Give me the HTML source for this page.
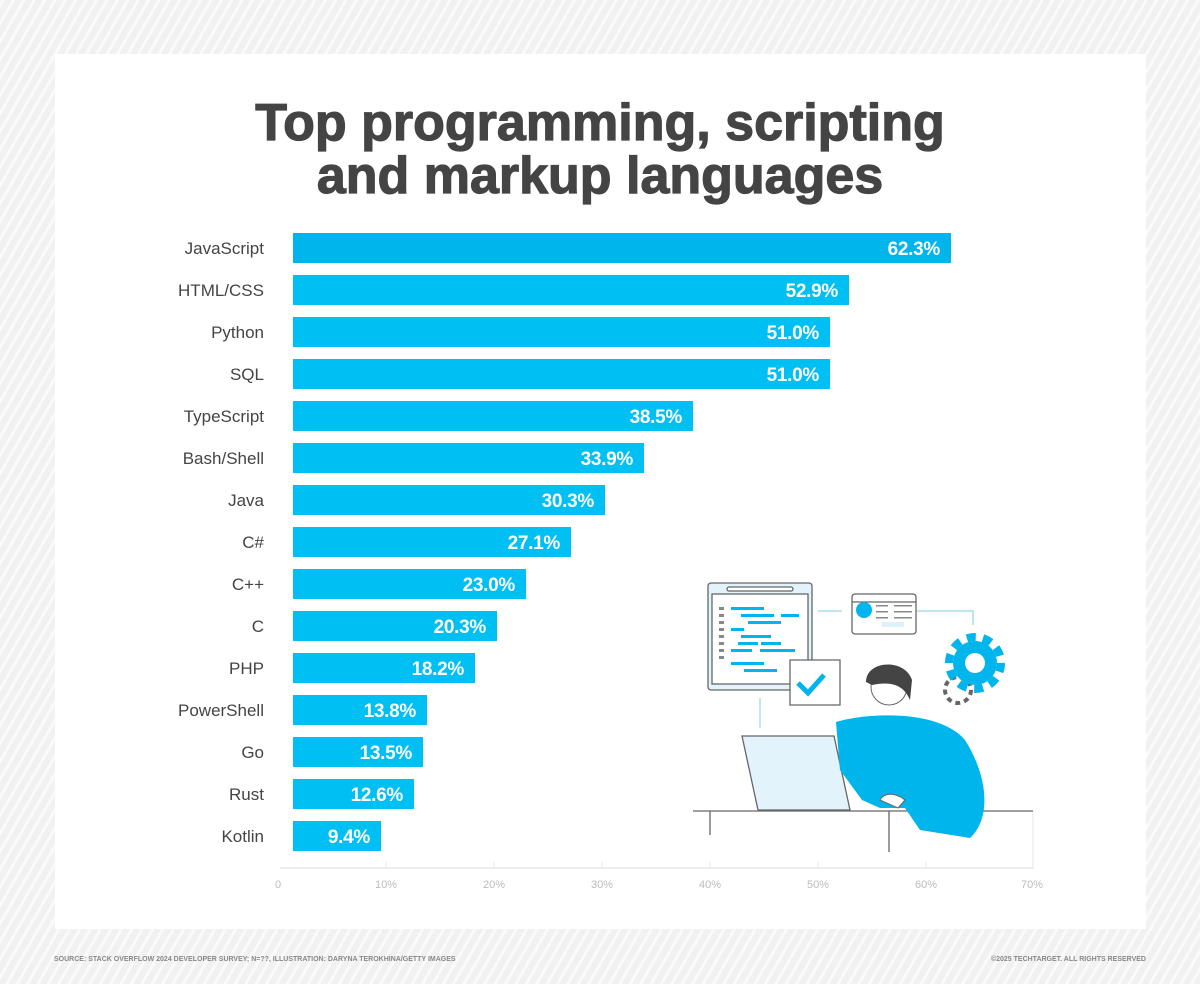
<!DOCTYPE html>
<html><head><style>
body{margin:0;width:1200px;height:984px;overflow:hidden;font-family:"Liberation Sans",sans-serif;
background:repeating-linear-gradient(-60deg,#f1f1f1 0 6px,#fafafa 6px 9px);}
</style></head><body>
<svg width="1200" height="984" style="position:absolute;left:0;top:0" font-family="Liberation Sans, sans-serif">
<rect x="55" y="54" width="1091" height="875" fill="#fff"/>
<g font-size="52" font-weight="bold" fill="#444" stroke="#444" stroke-width="1.2" text-anchor="middle">
<text x="600" y="140">Top programming, scripting</text>
<text x="600" y="193">and markup languages</text>
</g>
<g font-size="17" fill="#444" text-anchor="end">
<text x="264" y="254">JavaScript</text><text x="264" y="296">HTML/CSS</text><text x="264" y="338">Python</text>
<text x="264" y="380">SQL</text><text x="264" y="422">TypeScript</text><text x="264" y="464">Bash/Shell</text>
<text x="264" y="506">Java</text><text x="264" y="548">C#</text><text x="264" y="590">C++</text>
<text x="264" y="632">C</text><text x="264" y="674">PHP</text><text x="264" y="716">PowerShell</text>
<text x="264" y="758">Go</text><text x="264" y="800">Rust</text><text x="264" y="842">Kotlin</text>
</g>
<g fill="#00bff2">
<rect x="293" y="233" width="658" height="30" fill="#00b4ec"/><rect x="293" y="275" width="556" height="30"/>
<rect x="293" y="317" width="537" height="30"/><rect x="293" y="359" width="537" height="30"/>
<rect x="293" y="401" width="400" height="30"/><rect x="293" y="443" width="351" height="30"/>
<rect x="293" y="485" width="312" height="30"/><rect x="293" y="527" width="278" height="30"/>
<rect x="293" y="569" width="233" height="30"/><rect x="293" y="611" width="204" height="30"/>
<rect x="293" y="653" width="182" height="30"/><rect x="293" y="695" width="134" height="30"/>
<rect x="293" y="737" width="130" height="30"/><rect x="293" y="779" width="121" height="30"/>
<rect x="293" y="821" width="88" height="30"/>
</g>
<g font-size="19" font-weight="bold" fill="#fff" text-anchor="end" letter-spacing="-0.3">
<text x="940" y="255">62.3%</text><text x="838" y="297">52.9%</text><text x="819" y="339">51.0%</text>
<text x="819" y="381">51.0%</text><text x="682" y="423">38.5%</text><text x="633" y="465">33.9%</text>
<text x="594" y="507">30.3%</text><text x="560" y="549">27.1%</text><text x="515" y="591">23.0%</text>
<text x="486" y="633">20.3%</text><text x="464" y="675">18.2%</text><text x="416" y="717">13.8%</text>
<text x="412" y="759">13.5%</text><text x="403" y="801">12.6%</text><text x="370" y="843">9.4%</text>
</g>
<line x1="280" y1="868" x2="1034" y2="868" stroke="#eee" stroke-width="2"/>
<g stroke="#e4e4e4"><line x1="386" y1="862" x2="386" y2="868"/><line x1="494" y1="862" x2="494" y2="868"/><line x1="602" y1="862" x2="602" y2="868"/><line x1="710" y1="862" x2="710" y2="868"/><line x1="818" y1="862" x2="818" y2="868"/><line x1="926" y1="862" x2="926" y2="868"/><line x1="1033" y1="812" x2="1033" y2="868"/></g>
<g font-size="11" fill="#bbb" text-anchor="middle">
<text x="278" y="888">0</text><text x="386" y="888">10%</text><text x="494" y="888">20%</text><text x="602" y="888">30%</text>
<text x="710" y="888">40%</text><text x="818" y="888">50%</text><text x="926" y="888">60%</text><text x="1032" y="888">70%</text>
</g>
<text x="54" y="961" font-size="7" font-weight="bold" fill="#888">SOURCE: STACK OVERFLOW 2024 DEVELOPER SURVEY; N=??, ILLUSTRATION: DARYNA TEROKHINA/GETTY IMAGES</text>
<text x="1146" y="961" font-size="7" font-weight="bold" fill="#888" text-anchor="end">©2025 TECHTARGET. ALL RIGHTS RESERVED</text>
<!-- illustration -->
<g stroke="#666" stroke-width="1.3">
<rect x="708" y="583" width="104" height="107" rx="3" fill="#e2f3fc"/>
<rect x="712" y="594" width="96" height="90" fill="#fff"/>
<rect x="727" y="587" width="66" height="4" rx="2" fill="#fff"/>
<rect x="852" y="594" width="64" height="40" rx="3" fill="#fff"/>
<line x1="852" y1="602" x2="916" y2="602"/>
<path d="M790 660 h50 v45 h-50 z" fill="#fff"/>
<path d="M742 736 h92 l16 74 h-92 z" fill="#e2f3fc"/>
<line x1="693" y1="811" x2="1033" y2="811"/>
<line x1="710" y1="811" x2="710" y2="835"/><line x1="889" y1="811" x2="889" y2="852"/>
<circle cx="958" cy="690" r="13" fill="#fff" stroke-dasharray="5 4" stroke-width="4"/>
</g>
<g fill="#888"><rect x="719" y="607" width="5" height="3"/><rect x="719" y="614" width="5" height="3"/><rect x="719" y="621" width="5" height="3"/><rect x="719" y="628" width="5" height="3"/><rect x="719" y="635" width="5" height="3"/><rect x="719" y="642" width="5" height="3"/><rect x="719" y="649" width="5" height="3"/><rect x="719" y="656" width="5" height="3"/>
<rect x="876" y="605" width="12" height="1.5"/><rect x="894" y="605" width="18" height="1.5"/><rect x="876" y="611" width="12" height="1.5"/><rect x="894" y="611" width="18" height="1.5"/><rect x="876" y="617" width="12" height="1.5"/><rect x="894" y="617" width="18" height="1.5"/></g>
<rect x="882" y="622" width="22" height="5" fill="#dff2fb"/>
<g fill="#00b4ec">
<rect x="731" y="607" width="33" height="3"/><rect x="741" y="614" width="33" height="3"/><rect x="781" y="614" width="18" height="3"/>
<rect x="748" y="621" width="33" height="3"/><rect x="731" y="628" width="13" height="3"/><rect x="741" y="635" width="30" height="3"/>
<rect x="738" y="642" width="20" height="3"/><rect x="761" y="642" width="20" height="3"/><rect x="731" y="649" width="21" height="3"/>
<rect x="760" y="649" width="35" height="3"/><rect x="731" y="662" width="33" height="3"/><rect x="744" y="669" width="33" height="3"/>
<circle cx="864" cy="610" r="8"/>
<path d="M836 722 C870 712 940 710 965 740 C990 780 990 820 970 838 L920 830 L905 808 L880 808 L862 800 L840 770 Z"/>
<circle cx="975" cy="663" r="22"/>
</g>
<circle cx="975" cy="663" r="26" fill="none" stroke="#00b4ec" stroke-width="8" stroke-dasharray="9 7.3"/>
<circle cx="975" cy="663" r="10" fill="#fff"/>
<path d="M798 683 l10 10 l16 -18" stroke="#00b4ec" stroke-width="5" fill="none"/>
<circle cx="889" cy="687" r="18" fill="#fff" stroke="#666"/>
<path d="M866 682 C866 660 905 658 912 680 L910 700 C905 688 895 680 872 685 Z" fill="#444"/>
<path d="M880 800 C885 790 900 795 905 800 L898 808 Z" fill="#fff" stroke="#666"/>
<line x1="760" y1="698" x2="760" y2="728" stroke="#a8dcf3" stroke-width="1.5"/>
<path d="M818 611 h24 M917 611 h56 v14" stroke="#a8dcf3" stroke-width="1.5" fill="none"/>
</svg>
</body></html>
